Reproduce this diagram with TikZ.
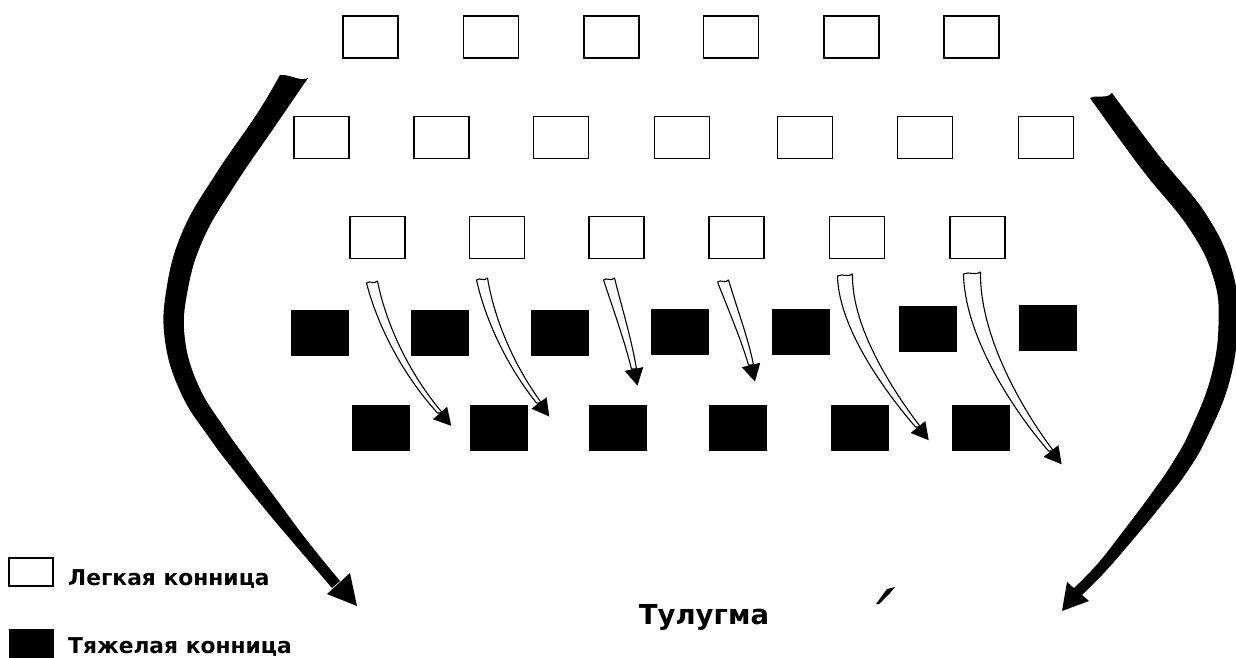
\documentclass[tikz,border=0pt]{standalone}
\usepackage{fontspec}
\setmainfont{DejaVu Sans}
\usetikzlibrary{calc}
\newcommand{\hollowarr}[9]{%
  \draw[harrow] (#1-#9,#2+1) .. controls (#3-#9+1,#4) and (#5-#9/2-1,#6) .. (#7-2.5,#8)
    -- (#7+2.5,#8) .. controls (#5+#9/2+1,#6) and (#3+#9-1,#4) .. (#1+#9,#2-1)
    .. controls (#1+2,#2+3) and (#1-2,#2-2) .. cycle;
  \fill ($(#7,#8)!9.5pt!90:(#5,#6)$) -- ($(#7,#8)!-17pt!(#5,#6)$) -- ($(#7,#8)!9.5pt!-90:(#5,#6)$) -- cycle;
}
\begin{document}
\begin{tikzpicture}[x=1pt,y=-1pt,
  wbox/.style={draw, line width=1.7pt, minimum width=55pt, minimum height=42pt, inner sep=0pt},
  bbox/.style={fill=black, minimum width=58pt, minimum height=46pt, inner sep=0pt},
  harrow/.style={draw, fill=white, line width=1.1pt, line join=round},
  lbl/.style={font=\bfseries\fontsize{21.8}{22}\selectfont, anchor=base west, inner sep=0pt}]
\useasboundingbox (0,0) rectangle (1236,658);
% row 1
\foreach \x [count=\i] in {370.5,491,611.5,731,851.5,971.5} {\node[wbox] (a\i) at (\x,37) {};}
% row 2
\foreach \x [count=\i] in {321.5,441.5,561,682,805,925,1046} {\node[wbox] (b\i) at (\x,137.5) {};}
% row 3
\foreach \x [count=\i] in {377.5,497,616.5,736.5,857,977.5} {\node[wbox] (c\i) at (\x,237.5) {};}
% row 4
\foreach \x/\y [count=\i] in {320/333,440/333,559.5/333,679.5/332,800.5/332,927.5/329,1047.5/328} {\node[bbox] (d\i) at (\x,\y) {};}
% row 5
\foreach \x [count=\i] in {380.5,499,617.5,738,859.5,980.5} {\node[bbox] (e\i) at (\x,428) {};}

% hollow arrows
\hollowarr{372}{282}{381}{322}{404}{372}{440}{413}{5.5}
\hollowarr{482}{279}{490}{320}{510}{365}{539}{403}{5.5}
\hollowarr{609}{279}{618}{310}{628}{340}{634}{369}{5.5}
\hollowarr{723}{281}{733}{310}{745}{340}{751}{365}{5.5}
\hollowarr{845}{275}{845}{322}{880}{380}{918}{427}{7.5}
\hollowarr{972}{273}{972}{330}{1010}{400}{1051}{451}{8.5}

% big left arrow
\fill plot[smooth, tension=0.7] coordinates {(280,75) (256.9,113.9) (215.7,174.1) (182.9,230.6) (166.6,288.2) (165.1,341.3) (181.3,393.9) (209.5,438) (235.2,472.1) (266.1,510.6) (298.4,548.8) (332,588)}
  -- plot[smooth, tension=0.7] coordinates {(340,581) (307.6,541.2) (277.9,501.4) (248.8,461.9) (224.5,428) (198.7,386.1) (184.9,338.7) (187.4,291.8) (203.1,239.4) (234.3,185.9) (275.1,126.1) (308,78)}
  .. controls (300,82) and (290,74) .. cycle;
\coordinate (ltip) at (357,606);
\fill (327,594) -- (ltip) -- (350,573) -- cycle;

% big right arrow
\fill plot[smooth, tension=0.7] coordinates {(1112,93) (1158.7,155.3) (1207.2,216) (1232.6,272.2) (1237.5,325.3) (1229.2,382.5) (1207.2,436.8) (1187.2,471.6) (1162,504.5) (1135.1,537.1) (1106.1,570.6) (1080,597)}
  -- plot[smooth, tension=0.7] coordinates {(1072,590) (1097.9,563.4) (1124.9,528.9) (1150,495.5) (1172.8,462.4) (1190.8,429.2) (1210.8,377.5) (1218.5,324.7) (1213.4,277.8) (1188.8,228) (1141.3,168.7) (1090,98)}
  .. controls (1098,94) and (1105,100) .. cycle;
\coordinate (rtip) at (1062,611);
\fill (1067,582) -- (rtip) -- (1089,601) -- cycle;

% stray mark
\fill (876,604) -- (879,604) -- (890,593) -- (895,587) -- (887,589) -- cycle;

% legend
\node[draw, line width=1.5pt, minimum width=44pt, minimum height=28pt, inner sep=0pt] (lw) at (31,572) {};
\node[fill=black, minimum width=45pt, minimum height=29pt, inner sep=0pt] (lb) at (31,643) {};
\node[lbl] (tw) at (68,585) {Легкая конница};
\node[lbl] (tb) at (68,653) {Тяжелая конница};
\node[font=\bfseries\fontsize{27.5}{28}\selectfont, anchor=base, inner sep=0pt] (title) at (704,624) {Тулугма};
\end{tikzpicture}
\end{document}
